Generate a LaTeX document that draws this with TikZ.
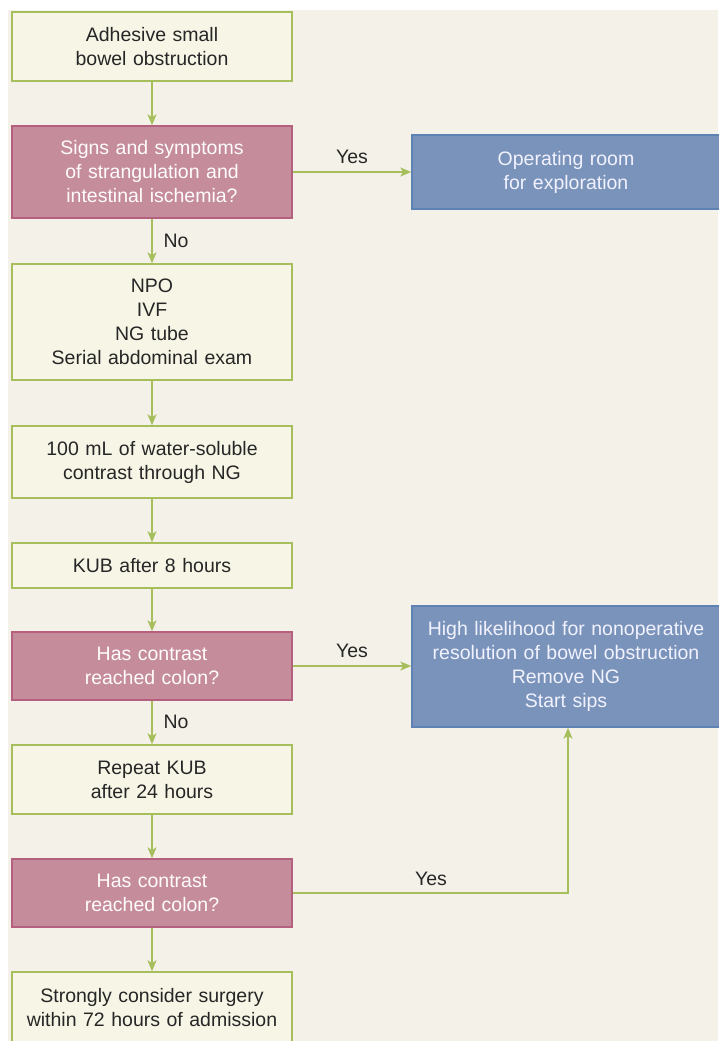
\documentclass[tikz,border=0pt]{standalone}
\usepackage{fontspec}
\setmainfont{Liberation Sans}
\usetikzlibrary{arrows.meta}

\definecolor{bgbeige}{HTML}{F4F1E8}
\definecolor{creamfill}{HTML}{F7F6E6}
\definecolor{greenline}{HTML}{A6BE5C}
\definecolor{pinkfill}{HTML}{C58C9C}
\definecolor{pinkline}{HTML}{B4607E}
\definecolor{bluefill}{HTML}{7A93BA}
\definecolor{blueline}{HTML}{5F82B5}

\begin{document}
\begin{tikzpicture}[x=1pt,y=-1pt,
    every node/.style={font=\fontsize{19.5}{24}\selectfont, align=center, inner sep=0pt},
    stepbox/.style={draw=greenline, line width=1.5pt, fill=creamfill, text=black!85,
        minimum width=280pt, text width=274pt},
    askbox/.style={draw=pinkline, line width=1.5pt, fill=pinkfill, text=white!95!pink,
        minimum width=280pt, text width=274pt},
    endbox/.style={draw=blueline, line width=1.5pt, fill=bluefill, text=white!95!blue,
        minimum width=308pt, text width=304pt},
    arrow/.style={draw=greenline, line width=1.2pt, -{Stealth[length=11pt,width=9pt,inset=3pt]}},
    lab/.style={text=black!85}]
\useasboundingbox (0,0) rectangle (718,1041);
\fill[white] (0,0) rectangle (718,1041);
\fill[bgbeige] (8,10) rectangle (718,1041);

\node[stepbox, minimum height=69pt] (start) at (152,46.5) {Adhesive small\\bowel obstruction};
\node[askbox, minimum height=92pt] (strang) at (152,172) {Signs and symptoms\\of strangulation and\\intestinal ischemia?};
\node[endbox, minimum height=74pt] (orroom) at (566,172) {Operating room\\for exploration};
\node[stepbox, minimum height=116pt] (npo) at (152,322) {NPO\\IVF\\NG tube\\Serial abdominal exam};
\node[stepbox, minimum height=72pt] (contrast) at (152,462) {100 mL of water-soluble\\contrast through NG};
\node[stepbox, minimum height=45pt] (kub) at (152,565.5) {KUB after 8 hours};
\node[askbox, minimum height=68pt] (reached1) at (152,666) {Has contrast\\reached colon?};
\node[endbox, minimum height=121pt] (likely) at (566,666.5) {High likelihood for nonoperative\\resolution of bowel obstruction\\Remove NG\\Start sips};
\node[stepbox, minimum height=69pt] (repeat) at (152,779.5) {Repeat KUB\\after 24 hours};
\node[askbox, minimum height=68pt] (reached2) at (152,893) {Has contrast\\reached colon?};
\node[stepbox, minimum height=72pt] (surgery) at (152,1008) {Strongly consider surgery\\within 72 hours of admission};

\draw[arrow] (start) -- (strang);
\draw[arrow] (strang) -- (npo);
\draw[arrow] (strang) -- (orroom);
\draw[arrow] (npo) -- (contrast);
\draw[arrow] (contrast) -- (kub);
\draw[arrow] (kub) -- (reached1);
\draw[arrow] (reached1) -- (likely.west |- reached1);
\draw[arrow] (reached1) -- (repeat);
\draw[arrow] (repeat) -- (reached2);
\draw[arrow] (reached2) -- (surgery);
\draw[arrow] (reached2.east) -| ([xshift=2pt]likely.south);

\node[lab] (yes1) at (352,157) {Yes};
\node[lab] (no1) at (176,241) {No};
\node[lab] (yes2) at (352,651) {Yes};
\node[lab] (no2) at (176,722) {No};
\node[lab] (yes3) at (431,879) {Yes};
\end{tikzpicture}
\end{document}
